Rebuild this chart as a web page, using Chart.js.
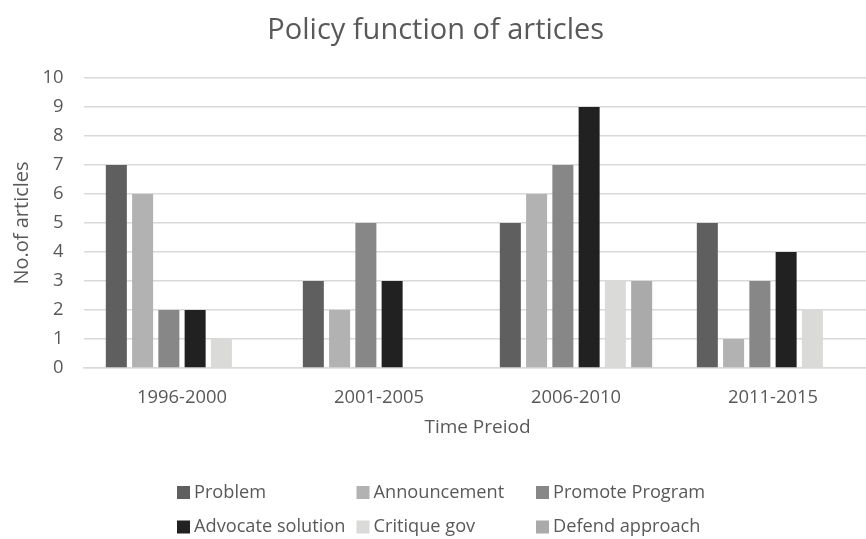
<!DOCTYPE html>
<html>
<head>
<meta charset="utf-8">
<script src="https://cdn.jsdelivr.net/npm/chart.js@4/dist/chart.umd.min.js"></script>
<style>
  html, body { margin: 0; padding: 0; background: #fff; overflow: hidden; }
  #wrap { width: 876px; height: 539px; }
</style>
</head>
<body>
<div id="wrap"><canvas id="c" width="876" height="539"></canvas></div>
<script>
// Time periods on the category axis
const periods = ['1996-2000', '2001-2005', '2006-2010', '2011-2015'];

// Number of articles per policy function
const problem      = [7, 3, 5, 5];
const announcement = [6, 2, 6, 1];
const promote      = [2, 5, 7, 3];
const advocate     = [2, 3, 9, 4];
const critique     = [1, 0, 3, 2];
const defend       = [0, 0, 3, 0];

const seriesNames = ['Problem', 'Announcement', 'Promote Program',
                     'Advocate solution', 'Critique gov', 'Defend approach'];
const seriesColors = ['#5f5f5f', '#b2b2b2', '#878787', '#212121', '#dadad9', '#a9aaa9'];
const seriesValues = [problem, announcement, promote, advocate, critique, defend];

const yTicks = [0, 1, 2, 3, 4, 5, 6, 7, 8, 9, 10];

const FONT = "'Open Sans', 'Liberation Sans', sans-serif";
const TEXT = '#595959';
const GRID = '#d9d9d9';

// Legend laid out as a 3-column grid under the plot
const gridLegend = {
  id: 'gridLegend',
  afterDraw(chart) {
    const ctx = chart.ctx;
    ctx.save();
    ctx.font = '18.2px ' + FONT;
    ctx.textBaseline = 'middle';
    ctx.textAlign = 'left';
    chart.data.datasets.forEach((ds, i) => {
      const col = i % 3, row = Math.floor(i / 3);
      const x = 177 + col * 179.5;
      const y = 492.5 + row * 34.5;
      ctx.fillStyle = ds.backgroundColor;
      ctx.fillRect(x, y - 6.5, 13, 13);
      ctx.fillStyle = TEXT;
      ctx.fillText(ds.label, x + 17, y);
    });
    ctx.restore();
  }
};

new Chart(document.getElementById('c'), {
  type: 'bar',
  data: {
    labels: periods,
    datasets: seriesNames.map((name, i) => ({
      label: name,
      data: seriesValues[i],
      backgroundColor: seriesColors[i],
      borderWidth: 0,
      categoryPercentage: 0.8,
      barPercentage: 0.8
    }))
  },
  options: {
    responsive: false,
    animation: false,
    layout: { padding: { top: 0, right: 4.5, bottom: 96, left: 0 } },
    plugins: {
      legend: { display: false },
      tooltip: { enabled: false },
      title: {
        display: true,
        text: 'Policy function of articles',
        color: TEXT,
        font: { family: FONT, size: 29, weight: 'normal' },
        padding: { top: 13.6, bottom: 29.6 }
      }
    },
    scales: {
      x: {
        grid: { display: false },
        border: { display: true, color: GRID, width: 1.5 },
        ticks: { color: TEXT, font: { family: FONT, size: 18.4 }, padding: 11 },
        title: {
          display: true, text: 'Time Preiod', color: TEXT,
          font: { family: FONT, size: 19 }, padding: { top: 8 }
        },
        afterFit(s) { s.height = 75; }
      },
      y: {
        min: 0, max: 10,
        afterBuildTicks(s) { s.ticks = yTicks.map(v => ({ value: v })); },
        grid: { color: GRID, lineWidth: 1.5, drawTicks: false },
        border: { display: false },
        ticks: { color: TEXT, font: { family: FONT, size: 18.4 }, padding: 20 },
        title: {
          display: true, text: 'No.of articles', color: TEXT,
          font: { family: FONT, size: 20 }, padding: { top: 10.5, bottom: 6 }
        },
        afterFit(s) { s.width = 83.5; }
      }
    }
  },
  plugins: [gridLegend]
});
</script>
</body>
</html>
